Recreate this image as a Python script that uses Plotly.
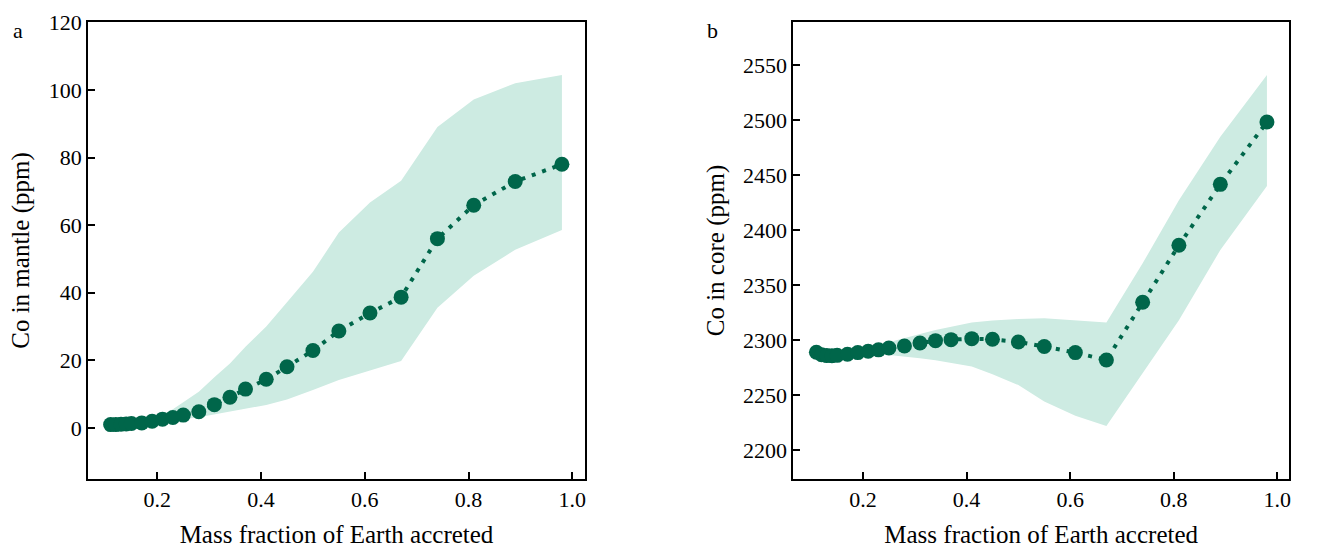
import plotly.graph_objects as go

# ---- data ----
mass_frac = [0.11, 0.12, 0.13, 0.14, 0.15, 0.17, 0.19, 0.21, 0.23, 0.25, 0.28, 0.31,
             0.34, 0.37, 0.41, 0.45, 0.50, 0.55, 0.61, 0.67, 0.74, 0.81, 0.89, 0.98]

co_mantle = [1.0, 1.0, 1.1, 1.2, 1.3, 1.5, 2.0, 2.6, 3.1, 3.8, 4.8, 6.9,
             9.1, 11.5, 14.4, 18.1, 22.9, 28.7, 34.0, 38.7, 56.0, 65.9, 72.9, 78.0]
mantle_upper = [1.2, 1.2, 1.3, 1.5, 1.7, 2.2, 3.0, 4.0, 5.5, 7.5, 10.7, 15.0,
                19.1, 24.0, 30.0, 37.2, 46.2, 57.8, 66.7, 73.1, 89.0, 97.2, 102.0, 104.4]
mantle_lower = [0.8, 0.8, 0.9, 0.9, 1.0, 1.2, 1.5, 1.8, 2.2, 2.6, 3.2, 4.0,
                4.8, 5.7, 6.8, 8.4, 11.2, 14.2, 17.0, 19.8, 35.6, 45.0, 52.7, 58.6]

co_core = [2288.8, 2286.5, 2285.8, 2285.7, 2286.0, 2287.0, 2288.5, 2289.7, 2291.0, 2292.7, 2294.5, 2297.3,
           2299.4, 2300.3, 2301.2, 2300.6, 2298.2, 2294.0, 2288.5, 2281.8, 2334.3, 2386.1, 2441.5, 2498.2]
core_upper = [2289.5, 2287.3, 2286.8, 2287.0, 2287.5, 2289.0, 2291.0, 2293.0, 2295.5, 2298.0, 2302.0, 2305.5,
              2309.0, 2312.0, 2315.8, 2317.6, 2319.0, 2319.7, 2318.0, 2315.8, 2369.7, 2427.0, 2484.8, 2541.0]
core_lower = [2288.0, 2285.7, 2284.9, 2284.6, 2284.7, 2285.2, 2286.0, 2286.6, 2286.8, 2286.4, 2285.0, 2283.3,
              2281.5, 2279.4, 2275.8, 2268.8, 2259.0, 2244.0, 2231.0, 2221.8, 2269.7, 2318.0, 2381.8, 2440.0]

x_ticks = [0.2, 0.4, 0.6, 0.8, 1.0]
mantle_ticks = [0, 20, 40, 60, 80, 100, 120]
core_ticks = [2200, 2250, 2300, 2350, 2400, 2450, 2500, 2550]

# ---- style ----
DARK = "#00664a"
BAND = "#cdebe2"
FONT = "Liberation Serif"

fig = go.Figure()

def add_panel(xa, ya, y, up, lo):
    fig.add_trace(go.Scatter(x=mass_frac + mass_frac[::-1], y=up + lo[::-1],
                             fill="toself", fillcolor=BAND, line=dict(width=0),
                             mode="lines", hoverinfo="skip", showlegend=False,
                             xaxis=xa, yaxis=ya))
    fig.add_trace(go.Scatter(x=mass_frac, y=y, mode="lines+markers",
                             line=dict(color=DARK, width=4, dash="4px,7px"),
                             marker=dict(color=DARK, size=15),
                             showlegend=False, xaxis=xa, yaxis=ya))

add_panel("x", "y", co_mantle, mantle_upper, mantle_lower)
add_panel("x2", "y2", co_core, core_upper, core_lower)

axis_common = dict(showgrid=False, zeroline=False, showline=True, linecolor="black",
                   linewidth=1.8, mirror=True, ticks="inside", ticklen=7, tickwidth=1.6,
                   tickcolor="black", automargin=False,
                   tickfont=dict(family=FONT, size=22, color="black"))

W, H = 1330, 548
top = 1 - 22 / H
bot = 1 - 479 / H
TITLE_FONT = dict(family=FONT, size=25, color="black")

fig.update_layout(
    width=W, height=H, margin=dict(l=0, r=0, t=0, b=0),
    paper_bgcolor="white", plot_bgcolor="white",
    font=dict(family=FONT, color="black"),
    xaxis=dict(domain=[88 / W, 585 / W], range=[0.0664, 1.0245], tickvals=x_ticks,
               ticktext=["%.1f" % v for v in x_ticks], anchor="y",
               title=dict(text="Mass fraction of Earth accreted", font=TITLE_FONT, standoff=18),
               **axis_common),
    yaxis=dict(domain=[bot, top], range=[-15.1, 120.1], tickvals=mantle_ticks, anchor="x",
               title=dict(text="Co in mantle (ppm)", font=TITLE_FONT, standoff=12),
               **axis_common),
    xaxis2=dict(domain=[793.3 / W, 1289 / W], range=[0.0654, 1.0226], tickvals=x_ticks,
                ticktext=["%.1f" % v for v in x_ticks], anchor="y2",
                title=dict(text="Mass fraction of Earth accreted", font=TITLE_FONT, standoff=18),
                **axis_common),
    yaxis2=dict(domain=[bot, top], range=[2173.6, 2589.1], tickvals=core_ticks, anchor="x2",
                title=dict(text="Co in core (ppm)", font=TITLE_FONT, standoff=11),
                **axis_common),
    annotations=[
        dict(text="a", x=18 / W, y=1 - 31 / H, xref="paper", yref="paper", showarrow=False,
             font=dict(family=FONT, size=22), xanchor="center", yanchor="middle"),
        dict(text="b", x=713 / W, y=1 - 31 / H, xref="paper", yref="paper", showarrow=False,
             font=dict(family=FONT, size=22), xanchor="center", yanchor="middle"),
    ],
)

fig.write_html("out.html")
